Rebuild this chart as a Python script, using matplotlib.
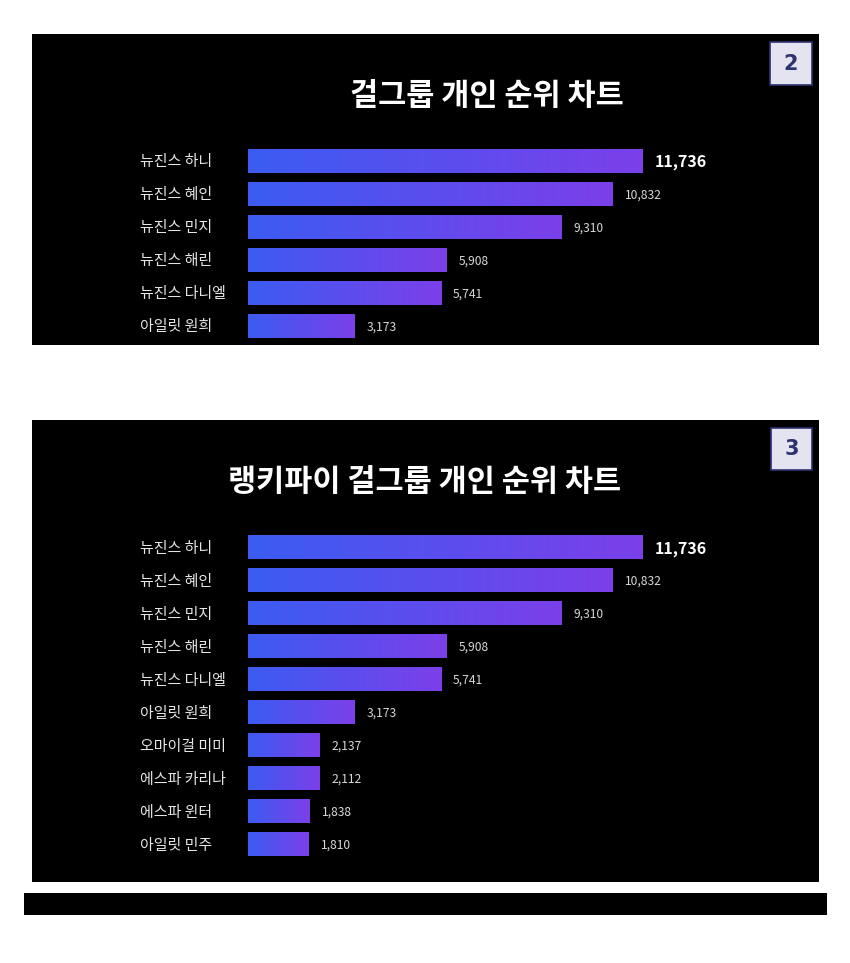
import numpy as np
import matplotlib
matplotlib.use('Agg')
import matplotlib.pyplot as plt
from matplotlib.colors import LinearSegmentedColormap
from matplotlib.patches import Rectangle

plt.rcParams['font.family'] = ['Noto Sans CJK KR', 'DejaVu Sans']

# ---- data ----
names_top = ['뉴진스 하니', '뉴진스 혜인', '뉴진스 민지', '뉴진스 해린', '뉴진스 다니엘', '아일릿 원희']
values_top = [11736, 10832, 9310, 5908, 5741, 3173]
title_top = '걸그룹 개인 순위 차트'

names_bot = ['뉴진스 하니', '뉴진스 혜인', '뉴진스 민지', '뉴진스 해린', '뉴진스 다니엘',
             '아일릿 원희', '오마이걸 미미', '에스파 카리나', '에스파 윈터', '아일릿 민주']
values_bot = [11736, 10832, 9310, 5908, 5741, 3173, 2137, 2112, 1838, 1810]
title_bot = '랭키파이 걸그룹 개인 순위 차트'

W, H = 850, 963
fig = plt.figure(figsize=(W / 100, H / 100), dpi=100)
fig.patch.set_facecolor('white')

cmap = LinearSegmentedColormap.from_list('bar', ['#3b5cf2', '#7b3fe9'])
grad = np.linspace(0, 1, 256).reshape(1, -1)

PX_PER_VAL = 395 / 11736   # pixel length per unit value
BAR_X0 = 248               # pixel x of value 0
ROW = 33                   # pixel distance between bars


def px_box(x0, y0, x1, y1):
    return [x0 / W, 1 - y1 / H, (x1 - x0) / W, (y1 - y0) / H]


def panel(box, first_y, names, values, title, title_x, title_y, badge_box, badge_txt):
    x0, y0, x1, y1 = box
    ax = fig.add_axes(px_box(*box))
    ax.set_facecolor('black')
    h = 24 / ROW
    for i, v in enumerate(values):
        ax.imshow(grad, cmap=cmap, aspect='auto', interpolation='bicubic',
                  extent=(0, v, i + h / 2, i - h / 2), zorder=2)
    ax.set_xlim(-(BAR_X0 - x0) / PX_PER_VAL, (x1 - BAR_X0) / PX_PER_VAL)
    ax.set_ylim((y1 - first_y) / ROW, (y0 - first_y) / ROW)
    lab_x = -(BAR_X0 - 140) / PX_PER_VAL
    gap = 12 / PX_PER_VAL
    dy = 1.5 / ROW  # nudge text down a bit
    for i, (nm, v) in enumerate(zip(names, values)):
        ax.text(lab_x, i + dy, nm, color='#e6e6e6', fontsize=10.8, ha='left', va='center')
        if i == 0:
            ax.text(v + gap, i + dy, f'{v:,}', color='white', fontsize=11.5,
                    fontweight='bold', ha='left', va='center')
        else:
            ax.text(v + gap, i + dy, f'{v:,}', color='#d8d8d8', fontsize=8.7,
                    ha='left', va='center')
    ax.text((title_x - x0) / (x1 - x0), 1 - (title_y - y0) / (y1 - y0), title,
            transform=ax.transAxes, color='white', fontsize=22, fontweight='bold',
            ha='center', va='center')
    for s in ax.spines.values():
        s.set_visible(False)
    ax.set_xticks([])
    ax.set_yticks([])

    bx0, by0, bx1, by1 = badge_box
    fig.patches.append(Rectangle((bx0 / W, 1 - by1 / H), (bx1 - bx0) / W, (by1 - by0) / H,
                                 transform=fig.transFigure, facecolor='#e3e4ef',
                                 edgecolor='#2e3270', linewidth=1.2, zorder=5))
    fig.text((bx0 + bx1) / 2 / W, 1 - (by0 + by1) / 2 / H, badge_txt, color='#2e3270',
             fontsize=15, fontweight='bold', ha='center', va='center', zorder=6,
             family='DejaVu Sans')


panel((32, 34, 819, 345), 161, names_top, values_top, title_top, 487, 96,
      (770, 42, 812, 85), '2')
panel((32, 420, 819, 882), 547, names_bot, values_bot, title_bot, 425, 482,
      (771, 428, 812, 470), '3')

# black strip at the bottom
fig.patches.append(Rectangle((24 / W, 1 - 915 / H), (827 - 24) / W, (915 - 893) / H,
                             transform=fig.transFigure, facecolor='black',
                             edgecolor='none', zorder=1))

fig.savefig('out.png', dpi=100, facecolor='white')
